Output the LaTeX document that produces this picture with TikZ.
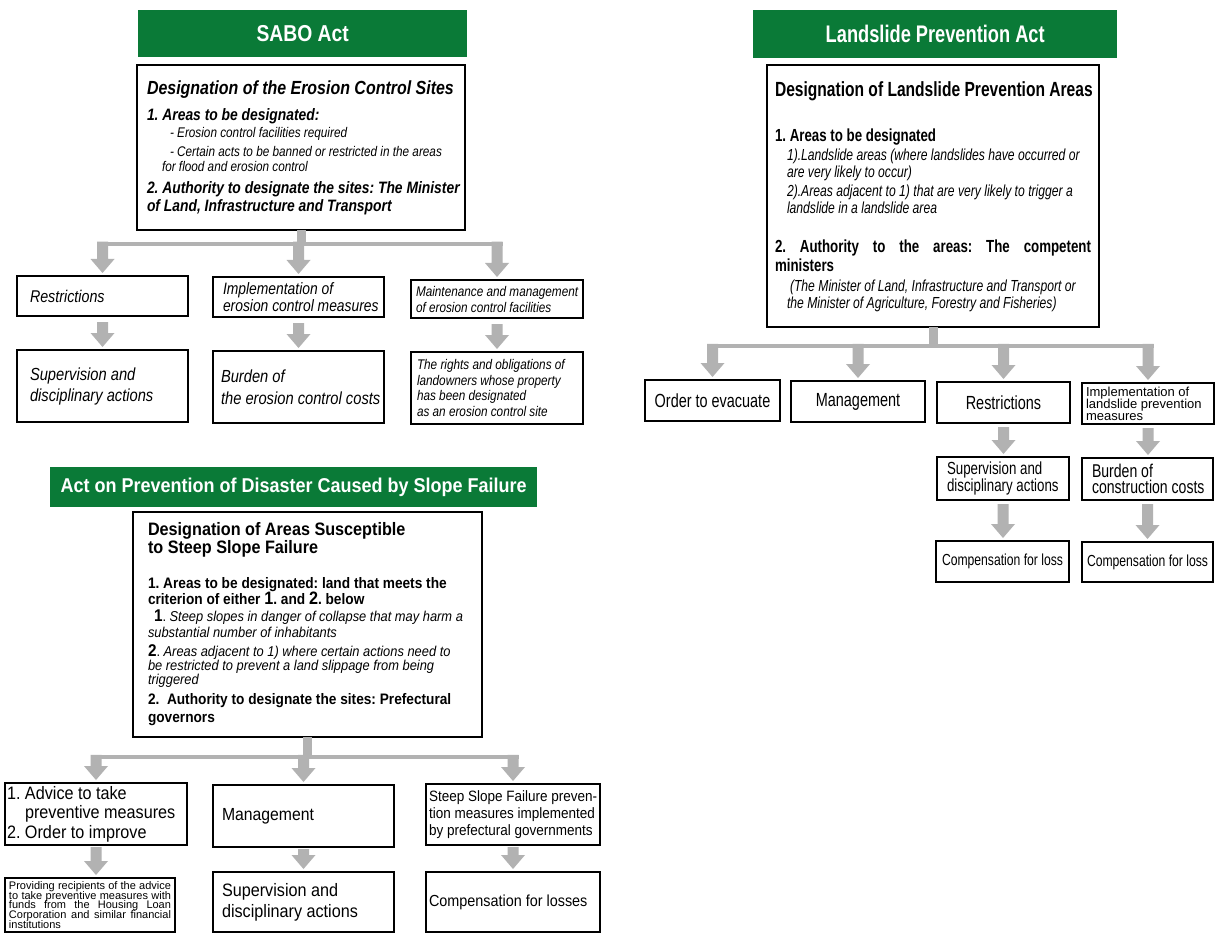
\documentclass[tikz,border=0pt]{standalone}
\usepackage{fontspec}
\setmainfont{Liberation Sans}
\newfontfamily\cnd[FakeStretch=0.84]{Liberation Sans}
\newfontfamily\cndb[FakeStretch=0.9]{Liberation Sans}
\newfontfamily\cndn[FakeStretch=0.76]{Liberation Sans}
\usetikzlibrary{calc}
\definecolor{actgreen}{RGB}{10,122,55}
\definecolor{arrgray}{RGB}{178,178,178}
\newcommand\FsZ[2]{\fontsize{#1pt}{#2pt}\selectfont}
\newcommand\LLine[4]{{\leftskip=#1pt\relax\FsZ{#2}{#3}\mbox{#4}\par}}
\newcommand\PBox[4]{\parbox[c][#2pt][#3]{#1pt}{\lineskiplimit=-50pt\relax #4}}
\newcommand\fatArrow[3]{\path[arrfill] let \p1=#1, \p2=#2 in
  (\x1-5.5pt,{\y1+#3pt}) -- (\x1+5.5pt,{\y1+#3pt}) -- (\x1+5.5pt,\y2+17pt) -- (\x1+12pt,\y2+17pt)
  -- (\x1,\y2+3pt) -- (\x1-12pt,\y2+17pt) -- (\x1-5.5pt,\y2+17pt) -- cycle;}
\newcommand\branchBar[4]{%
  \path[arrfill] let \p1=(#1.north), \p2=(#2.north), \p3=(#4) in
    (\x1-5.5pt,\y3+2.25pt) rectangle (\x2+5.5pt,\y3-2.25pt);
  \path[arrfill] let \p1=(#3.south), \p3=(#4) in
    (\x1-4.5pt,\y1) rectangle (\x1+4.5pt,\y3);}
\tikzset{
  box/.style={draw=black, line width=1.1pt, inner sep=0pt, outer sep=0pt, anchor=north west},
  mainbox/.style={box, line width=1.4pt},
  head/.style={fill=actgreen, inner sep=0pt, anchor=north west, text=white, align=center},
  arrfill/.style={fill=arrgray}
}
\begin{document}
\frenchspacing
\begin{tikzpicture}[x=1pt,y=-1pt]
\useasboundingbox (0,0) rectangle (1215,933);
\fill[white] (0,0) rectangle (1215,933);

% ================= SABO Act =================
\node[head, minimum width=329pt, minimum height=47pt] (sabohead) at (138,10) {\cnd\bfseries\FsZ{23}{23}SABO Act};
\node[mainbox] (sabo) at (137,65) {\PBox{328}{165}{t}{%
 \LLine{10}{19}{19}{\cnd\bfseries\itshape\rule{0pt}{30pt}Designation of the Erosion Control Sites}%
 \LLine{10}{16.5}{26}{\cnd\bfseries\itshape 1. Areas to be designated:}%
 \LLine{33}{14}{17}{\cnd\itshape - Erosion control facilities required}%
 \LLine{33}{14}{19}{\cnd\itshape - Certain acts to be banned or restricted in the areas}%
 \LLine{25}{14}{15}{\cnd\itshape for flood and erosion control}%
 \LLine{10}{16.5}{22}{\cnd\bfseries\itshape 2. Authority to designate the sites: The Minister}%
 \LLine{10}{16.5}{18}{\cnd\bfseries\itshape of Land, Infrastructure and Transport}}};

\node[box] (r1) at (17,276) {\PBox{171}{40}{c}{\LLine{13}{17}{17}{\cnd\itshape Restrictions}}};
\node[box] (i1) at (213,277) {\PBox{171}{40}{c}{\LLine{10}{16.5}{17}{\cnd\itshape Implementation of}\LLine{10}{16.5}{17}{\cnd\itshape erosion control measures}}};
\node[box] (m1) at (411,280) {\PBox{172}{38}{c}{\LLine{5}{14}{16}{\cnd\itshape Maintenance and management}\LLine{5}{14}{16}{\cnd\itshape of erosion control facilities}}};
\node[box] (s2) at (17,350) {\PBox{171}{72}{c}{\LLine{13}{17.5}{21}{\cnd\itshape Supervision and}\LLine{13}{17.5}{21}{\cnd\itshape disciplinary actions}}};
\node[box] (b2) at (213,351) {\PBox{171}{72}{c}{\LLine{8}{17.5}{22}{\cnd\itshape Burden of}\LLine{8}{17.5}{22}{\cnd\itshape the erosion control costs}}};
\node[box] (t2) at (411,352) {\PBox{172}{72}{c}{%
 \LLine{6}{14}{15.5}{\cnd\itshape The rights and obligations of}%
 \LLine{6}{14}{15.5}{\cnd\itshape landowners whose property}%
 \LLine{6}{14}{15.5}{\cnd\itshape has been designated}%
 \LLine{6}{14}{15.5}{\cnd\itshape as an erosion control site}}};

\coordinate (sbar) at (301,244);
\branchBar{r1}{m1}{sabo}{sbar}
\fatArrow{(r1.north|-sbar)}{(r1.north)}{2.25}
\fatArrow{(i1.north|-sbar)}{(i1.north)}{2.25}
\fatArrow{(m1.north|-sbar)}{(m1.north)}{2.25}
\fatArrow{(r1.south)}{(s2.north)}{-6}
\fatArrow{(i1.south)}{(b2.north)}{-6}
\fatArrow{(m1.south)}{(t2.north)}{-6}

% ================= Landslide Prevention Act =================
\node[head, minimum width=364pt, minimum height=48pt] (landhead) at (753,10) {\cndn\bfseries\FsZ{24}{24}Landslide Prevention Act};
\node[mainbox] (land) at (767,65) {\PBox{332}{262}{t}{%
 \LLine{8}{20.5}{20.5}{\cndn\bfseries\rule{0pt}{32pt}Designation of Landslide Prevention Areas}%
 \LLine{8}{17.5}{45}{\cndn\bfseries 1. Areas to be designated}%
 \LLine{20}{16}{19}{\cndn\itshape 1).Landslide areas (where landslides have occurred or}%
 \LLine{20}{16}{17}{\cndn\itshape are very likely to occur)}%
 \LLine{20}{16}{19}{\cndn\itshape 2).Areas adjacent to 1) that are very likely to trigger a}%
 \LLine{20}{16}{17}{\cndn\itshape landslide in a landslide area}%
 \LLine{8}{17.5}{39}{\cndn\bfseries\makebox[316pt][s]{2. Authority to the areas: The competent}}%
 \LLine{8}{17.5}{19}{\cndn\bfseries ministers}%
 \LLine{23}{16}{20}{\cndn\itshape (The Minister of Land, Infrastructure and Transport or}%
 \LLine{20}{16}{17}{\cndn\itshape the Minister of Agriculture, Forestry and Fisheries)}}};

\node[box] (lo) at (645,380) {\PBox{135}{41}{c}{\centering\FsZ{19}{19}\cndn Order to evacuate\par}};
\node[box] (lm) at (791,381) {\PBox{134}{41}{c}{\centering\FsZ{19}{19}\cndn Management\par}};
\node[box] (lr) at (937,382) {\PBox{133}{41}{c}{\centering\FsZ{19}{19}\cndn Restrictions\par}};
\node[box] (li) at (1082,383) {\PBox{132}{41}{c}{\LLine{4}{13}{12}{Implementation of}\LLine{4}{13}{12}{landslide prevention}\LLine{4}{13}{12}{measures}}};
\node[box] (ls) at (937,457) {\PBox{132}{43}{c}{\LLine{10}{17.5}{17}{\cndn Supervision and}\LLine{10}{17.5}{17}{\cndn disciplinary actions}}};
\node[box] (lb) at (1082,458) {\PBox{131}{42}{c}{\LLine{10}{18.5}{16.5}{\cndn Burden of}\LLine{10}{18.5}{16.5}{\cndn construction costs}}};
\node[box] (lc1) at (936,541) {\PBox{133}{41}{c}{\centering\FsZ{16}{16}\cndn Compensation for loss\par}};
\node[box] (lc2) at (1082,542) {\PBox{131}{40}{c}{\centering\FsZ{16}{16}\cndn Compensation for loss\par}};

\coordinate (lbar) at (933,346);
\branchBar{lo}{li}{land}{lbar}
\fatArrow{(lo.north|-lbar)}{(lo.north)}{2.25}
\fatArrow{(lm.north|-lbar)}{(lm.north)}{2.25}
\fatArrow{(lr.north|-lbar)}{(lr.north)}{2.25}
\fatArrow{(li.north|-lbar)}{(li.north)}{2.25}
\fatArrow{(lr.south)}{(ls.north)}{-4}
\fatArrow{(li.south)}{(lb.north)}{-4}
\fatArrow{(ls.south)}{(lc1.north)}{-4}
\fatArrow{(lb.south)}{(lc2.north)}{-4}

% ================= Slope Failure Act =================
\node[head, minimum width=487pt, minimum height=40pt] (slopehead) at (50,467) {\cndb\bfseries\FsZ{20}{20}Act on Prevention of Disaster Caused by Slope Failure};
\node[mainbox] (slope) at (133,512) {\PBox{349}{225}{t}{%
 \LLine{15}{18}{18}{\cndb\bfseries\rule{0pt}{23pt}Designation of Areas Susceptible}%
 \LLine{15}{18}{18}{\cndb\bfseries to Steep Slope Failure}%
 \LLine{15}{15.2}{35}{\cndb\bfseries 1. Areas to be designated: land that meets the}%
 \LLine{15}{15.2}{16}{\cndb\bfseries criterion of either {\FsZ{18}{18}1}. and {\FsZ{18}{18}2}. below}%
 \LLine{21}{14.3}{17}{\cndb{\bfseries\FsZ{17}{17}1}. \itshape Steep slopes in danger of collapse that may harm a}%
 \LLine{15}{14.3}{16}{\cndb\itshape substantial number of inhabitants}%
 \LLine{15}{14.3}{19}{\cndb{\bfseries\FsZ{17}{17}2}. \itshape Areas adjacent to 1) where certain actions need to}%
 \LLine{15}{14.3}{14}{\cndb\itshape be restricted to prevent a land slippage from being}%
 \LLine{15}{14.3}{14}{\cndb\itshape triggered}%
 \LLine{15}{15.2}{20}{\cndb\bfseries 2.\ \ Authority to designate the sites: Prefectural}%
 \LLine{15}{15.2}{18}{\cndb\bfseries governors}}};

\node[box] (pa) at (5,783) {\PBox{182}{62}{c}{%
 \LLine{2}{18}{19.5}{\cndb 1. Advice to take}%
 \LLine{2}{18}{19.5}{\cndb\phantom{1. }preventive measures}%
 \LLine{2}{18}{19.5}{\cndb 2. Order to improve}}};
\node[box] (pm) at (213,785) {\PBox{181}{62}{c}{\LLine{9}{17.5}{17.5}{\cndb Management}}};
\node[box] (ps) at (426,784) {\PBox{174}{61}{c}{%
 \LLine{3}{15}{17}{\cndb Steep Slope Failure preven-}%
 \LLine{3}{15}{17}{\cndb tion measures implemented}%
 \LLine{3}{15}{17}{\cndb by prefectural governments}}};
\node[box] (pp) at (5,878) {\PBox{170}{54}{c}{%
 \LLine{4}{11}{9.8}{\makebox[162pt][s]{Providing recipients of the advice}}%
 \LLine{4}{11}{9.8}{\makebox[162pt][s]{to take preventive measures with}}%
 \LLine{4}{11}{9.8}{\makebox[162pt][s]{funds from the Housing Loan}}%
 \LLine{4}{11}{9.8}{\makebox[162pt][s]{Corporation and similar financial}}%
 \LLine{4}{11}{9.8}{institutions}}};
\node[box] (pv) at (213,872) {\PBox{181}{60}{c}{\LLine{9}{18}{21}{\cndb Supervision and}\LLine{9}{18}{21}{\cndb disciplinary actions}}};
\node[box] (pc) at (426,872) {\PBox{174}{60}{c}{\LLine{3}{16}{16}{\cndb Compensation for losses}}};

\coordinate (pbar) at (308,757);
\branchBar{pa}{ps}{slope}{pbar}
\fatArrow{(pa.north|-pbar)}{(pa.north)}{2.25}
\fatArrow{(pm.north|-pbar)}{(pm.north)}{2.25}
\fatArrow{(ps.north|-pbar)}{(ps.north)}{2.25}
\fatArrow{(pa.south)}{(pp.north)}{-2}
\fatArrow{(pm.south)}{(pv.north)}{-2}
\fatArrow{(ps.south)}{(pc.north)}{-2}
\end{tikzpicture}
\end{document}
